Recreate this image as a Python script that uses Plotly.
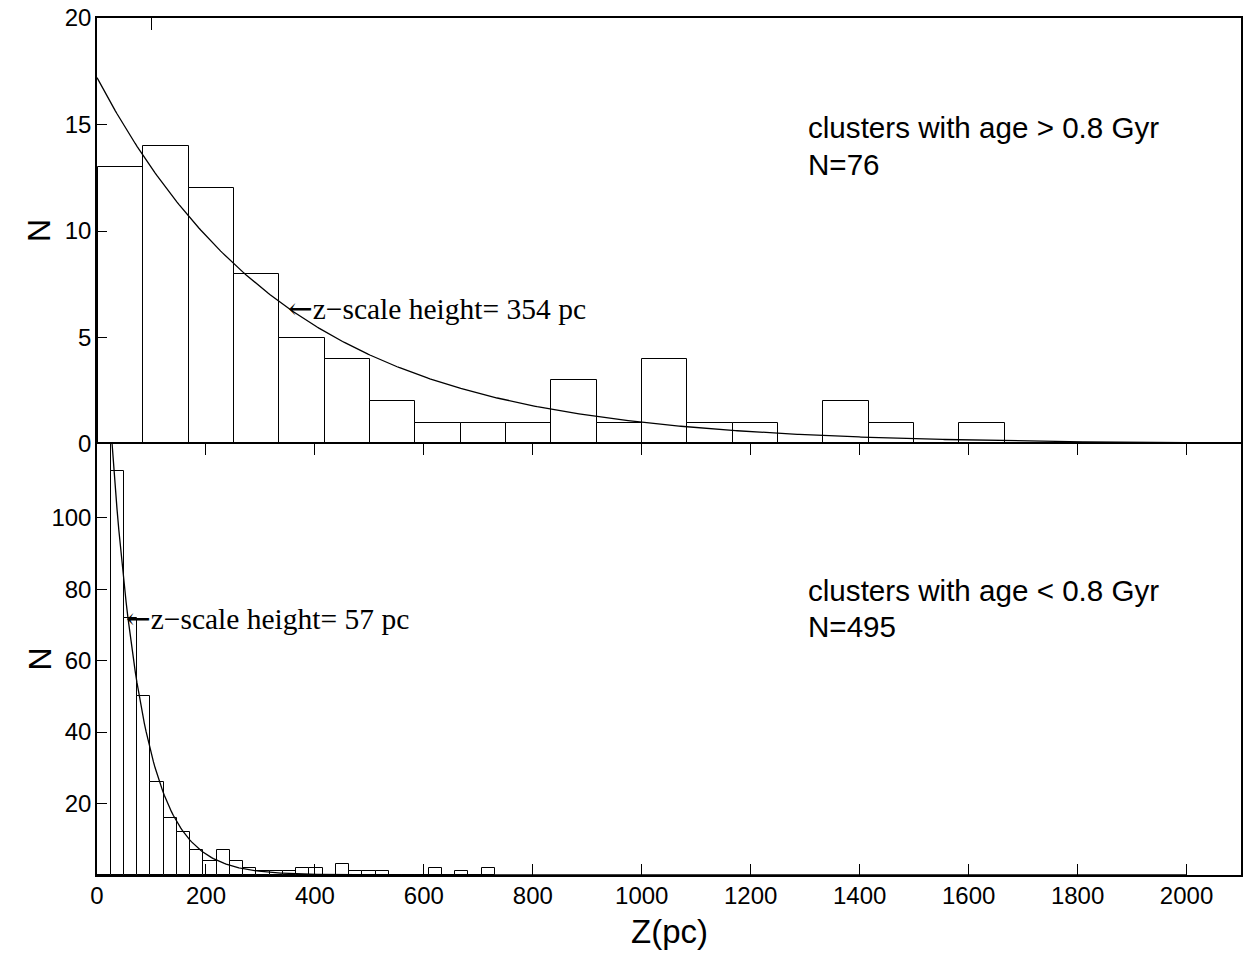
import numpy as np
import plotly.graph_objects as go

# ---------------- data ----------------
# Upper panel: clusters older than 0.8 Gyr
old_bin_start = 2.0      # pc
old_bin_width = 83.2     # pc
old_counts = [13, 14, 12, 8, 5, 4, 2, 1, 1, 1, 3, 1, 4, 1, 1, 0, 2, 1, 0, 1]
old_N0 = 17.2            # fitted central value
old_h = 354              # z-scale height (pc)
old_title = "clusters with age > 0.8 Gyr"
old_ntext = "N=76"

# Lower panel: clusters younger than 0.8 Gyr
young_bin_start = 0.5
young_bin_width = 24.33
young_counts = [164, 113, 72, 50, 26, 16, 12, 7, 4, 7, 4, 2, 1, 1, 1, 2, 2, 0,
                3, 1, 1, 1, 0, 0, 0, 2, 0, 1, 0, 2]
young_N0 = 195
young_h = 57
young_title = "clusters with age < 0.8 Gyr"
young_ntext = "N=495"

x_ticks = [0, 200, 400, 600, 800, 1000, 1200, 1400, 1600, 1800, 2000]
y_ticks_top = [0, 5, 10, 15, 20]
y_ticks_bottom = [20, 40, 60, 80, 100]
fit_zmax = 2000

# ---------------- figure ----------------
SANS = "Liberation Sans, Arial, sans-serif"
SERIF = "Liberation Serif, Times New Roman, serif"
split = 432 / 859.0

fig = go.Figure()

def centers(start, width, n):
    return [start + width * (i + 0.5) for i in range(n)]

fig.add_trace(go.Bar(
    x=centers(old_bin_start, old_bin_width, len(old_counts)), y=old_counts,
    width=old_bin_width, marker=dict(color="white", line=dict(color="black", width=1)),
    xaxis="x", yaxis="y", hoverinfo="skip"))
fig.add_trace(go.Bar(
    x=centers(young_bin_start, young_bin_width, len(young_counts)), y=young_counts,
    width=young_bin_width, marker=dict(color="white", line=dict(color="black", width=1)),
    xaxis="x2", yaxis="y2", hoverinfo="skip"))

z = np.linspace(0, fit_zmax, 600)
fig.add_trace(go.Scatter(x=z, y=old_N0 * np.exp(-z / old_h), mode="lines",
                         line=dict(color="black", width=1.3), xaxis="x", yaxis="y",
                         hoverinfo="skip"))
fig.add_trace(go.Scatter(x=z, y=young_N0 * np.exp(-z / young_h), mode="lines",
                         line=dict(color="black", width=1.3), xaxis="x2", yaxis="y2",
                         hoverinfo="skip"))
# dummy trace for the top border axis (single tick at the top)
fig.add_trace(go.Scatter(x=[None], y=[None], xaxis="x3", yaxis="y", showlegend=False))

xr = [0, 2100]
axis_common = dict(showgrid=False, zeroline=False, linecolor="black", linewidth=1.5,
                   tickcolor="black", tickwidth=1.2,
                   tickfont=dict(family=SANS, size=24, color="black"))

fig.update_layout(
    width=1247, height=953,
    margin=dict(l=97, r=4, t=16, b=78),
    paper_bgcolor="white", plot_bgcolor="white",
    showlegend=False, bargap=0,
    xaxis=dict(domain=[0, 1], anchor="y", range=xr, showline=False,
               ticks="", showticklabels=False, matches="x2", **axis_common),
    yaxis=dict(domain=[split, 1], anchor="x", range=[0, 20], tickvals=y_ticks_top,
               ticks="inside", ticklen=10, showline=True, mirror=True,
               ticklabelstandoff=-1, **axis_common),
    xaxis2=dict(domain=[0, 1], anchor="y2", range=xr, tickvals=x_ticks,
                ticks="inside", ticklen=11, showline=True, mirror="ticks",
                ticklabelstandoff=-2, **axis_common),
    yaxis2=dict(domain=[0, split], anchor="x2", range=[0, 120.6], tickvals=y_ticks_bottom,
                ticks="inside", ticklen=10, showline=True, mirror=True,
                ticklabelstandoff=-1, **axis_common),
    xaxis3=dict(overlaying="x", side="top", anchor="y", range=xr, tickvals=[100],
                ticks="inside", ticklen=12, showticklabels=False, showline=True,
                linecolor="black", linewidth=1.5,
                showgrid=False, zeroline=False, tickcolor="black", tickwidth=1.2),
)

ann = []
# scale-height labels, pointing at the fit curve at z = h
arrow = '<span style="font-family:DejaVu Serif">\u2190</span>'
for h, N0, ax, ay in [(old_h, old_N0, "x", "y"), (young_h, young_N0, "x2", "y2")]:
    ann.append(dict(x=h, y=N0 / np.e, xref=ax, yref=ay, xanchor="left", yanchor="middle",
                    xshift=-4,
                    text=f"{arrow}z\u2212scale height= {h} pc", showarrow=False,
                    font=dict(family=SERIF, size=29.5, color="black")))
# panel descriptions
for txt, yv, ay in [(old_title, 14.87, "y"), (old_ntext, 13.1, "y"),
                    (young_title, 79.6, "y2"), (young_ntext, 69.4, "y2")]:
    ann.append(dict(x=1301, y=yv, xref="x" if ay == "y" else "x2", yref=ay,
                    xanchor="left", yanchor="middle", text=txt, showarrow=False,
                    font=dict(family=SANS, size=29.6, color="black")))
# axis titles
ann.append(dict(x=0.5, y=-0.0664, xref="paper", yref="paper", xanchor="center",
                yanchor="middle", text="Z(pc)", showarrow=False,
                font=dict(family=SANS, size=33, color="black")))
for yc in [(1 + split) / 2, split / 2]:
    ann.append(dict(x=-0.0506, y=yc, xref="paper", yref="paper", xanchor="center",
                    yanchor="middle", text="N", textangle=-90, showarrow=False,
                    font=dict(family=SANS, size=32, color="black")))
fig.update_layout(annotations=ann)

fig.write_html("out.html")
